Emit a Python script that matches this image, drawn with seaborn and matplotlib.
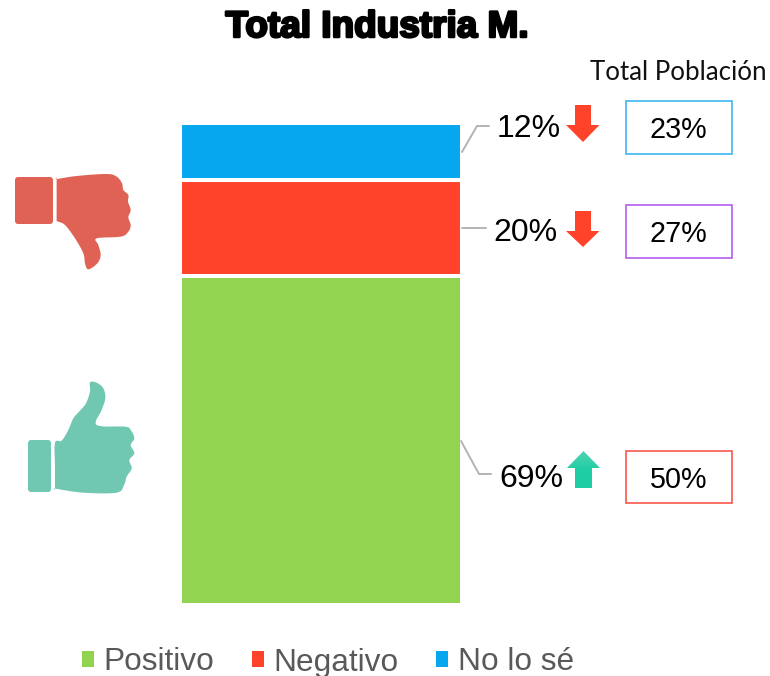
import numpy as np
import pandas as pd
import matplotlib
matplotlib.use("Agg")
import matplotlib.pyplot as plt
import matplotlib.patheffects as pe
from matplotlib.patches import Patch, Polygon, Rectangle, FancyBboxPatch
import seaborn as sns

categories = ["Positivo", "Negativo", "No lo sé"]
values = [69, 20, 12]
population = [50, 27, 23]
title = "Total Industria M."
population_title = "Total Población"

bar_colors = ["#92D350", "#FF432B", "#07A7F0"]
box_colors = ["#F9584A", "#B35CF0", "#3DB5F0"]

sns.set_theme(style="white")
plt.rcParams["font.family"] = ["Liberation Sans", "DejaVu Sans"]

W, H = 770, 676
fig = plt.figure(figsize=(W / 100, H / 100), dpi=100, facecolor="white")

# bar axes (2 px of margin is hidden by the clipped white edge)
ax = fig.add_axes([180 / W, (H - 605) / H, 282 / W, 482 / H])
df = pd.DataFrame({"group": ["Total"] * 3, "cat": categories, "val": values})
bottom = 0
for cat, val, col in zip(categories, values, bar_colors):
    sns.barplot(data=df[df.cat == cat], x="group", y="val", bottom=bottom, width=1,
                color=col, saturation=1, edgecolor="white", linewidth=2.9, ax=ax,
                errorbar=None)
    bottom += val
ax.set_xlim(-0.5, 0.5)
ax.set_ylim(0, sum(values))
ax.axis("off")

# overlay in pixel coordinates for annotation furniture
ov = fig.add_axes([0, 0, 1, 1], zorder=5)
ov.set_xlim(0, W)
ov.set_ylim(H, 0)
ov.axis("off")
ov.patch.set_alpha(0)

ov.text(377, 27.5, title, ha="center", va="center", fontsize=26.6, fontweight="bold", color="black",
        path_effects=[pe.withStroke(linewidth=1.8, foreground="black")])
ov.text(678, 73, population_title, ha="center", va="center", fontsize=18.6, family="Lato", color="#111111")

# leader lines
grey = "#B3B3B3"
leaders = [([462, 477, 489], [152, 126, 126]),
           ([462, 486], [228, 228]),
           ([461, 479, 491], [441, 474, 474])]
for xs, ys in leaders:
    ov.plot(xs, ys, color=grey, lw=1.4, solid_joinstyle="miter")

# value labels
label_pos = [(531, 479), (525.5, 233), (529, 129)]
for v, (x, y) in zip(values, label_pos):
    ov.text(x, y, f"{v}%", ha="center", va="center", fontsize=23, color="black")

# population boxes
box_pos = [(626, 451, 106, 52), (625.5, 205, 106.5, 53), (625.5, 101, 106.5, 53)]
for p, col, (x, y, w, h) in zip(population, box_colors, box_pos):
    ov.add_patch(Rectangle((x, y), w, h, fc="white", ec=col, lw=1.2))
    ov.text(x + w / 2, y + h / 2 + 3, f"{p}%", ha="center", va="center", fontsize=20.7, color="black")

# arrows
def down_arrow(top, shoulder, tip, col):
    ov.add_patch(Polygon([(575, top), (591, top), (591, shoulder), (599.5, shoulder),
                          (583, tip), (566, shoulder), (575, shoulder)], closed=True, fc=col, ec="none"))

down_arrow(105, 125, 142, "#FF432B")
down_arrow(211, 231, 247, "#FF432B")
up = Polygon([(583.5, 451), (600, 468), (592, 468), (592, 488), (575, 488), (575, 468), (567, 468)],
             closed=True, fc="none", ec="none")
ov.add_patch(up)
grad = np.linspace(0, 1, 64).reshape(-1, 1)
cmap = matplotlib.colors.LinearSegmentedColormap.from_list("g", ["#20CDA5", "#20CDA5", "#52D4B2"])
im = ov.imshow(grad, extent=(566, 601, 489, 450), aspect="auto", cmap=cmap, origin="lower", zorder=2)
im.set_clip_path(up)
ov.set_xlim(0, W)
ov.set_ylim(H, 0)

# thumbs: outlines, rounded with a closed Catmull-Rom spline
def from_zoom(pts, ox, oy):
    p = np.array(pts, dtype=float) / 3 + [ox, oy]
    n = len(p)
    out = []
    for i in range(n):
        p0, p1, p2, p3 = p[(i - 1) % n], p[i], p[(i + 1) % n], p[(i + 2) % n]
        for t in np.linspace(0, 1, 8, endpoint=False):
            out.append(0.5 * (2 * p1 + (p2 - p0) * t + (2 * p0 - 5 * p1 + 4 * p2 - p3) * t ** 2
                              + (3 * p1 - p0 - 3 * p2 + p3) * t ** 3))
    return out

down_col = "#E06254"
ov.add_patch(FancyBboxPatch((17, 179), 34, 43, boxstyle="round,pad=2,rounding_size=3", fc=down_col, ec="none"))
down_hand = [(170, 58), (172, 57), (230, 48), (320, 42), (350, 50), (366, 70), (370, 90), (385, 105), (384, 125),
             (392, 150), (385, 172), (392, 195), (385, 215), (362, 230), (290, 235), (295, 255),
             (302, 285), (292, 310), (265, 328), (255, 310), (250, 280), (225, 235), (195, 195), (172, 184), (170, 182),
             (170, 120)]
ov.add_patch(Polygon(from_zoom(down_hand, 0, 160), closed=True, fc=down_col, ec="none"))

up_col = "#70C7B2"
ov.add_patch(FancyBboxPatch((30, 442), 19, 48, boxstyle="round,pad=2,rounding_size=3", fc=up_col, ec="none"))
up_hand = [(165, 218), (185, 212), (205, 180), (220, 145), (240, 122), (258, 100), (270, 65), (270, 37),
           (290, 38), (310, 55), (316, 85), (305, 120), (290, 165), (375, 170), (392, 180), (403, 205),
           (392, 225), (403, 250), (388, 270), (395, 295), (380, 320), (372, 345), (350, 368), (250, 368),
           (167, 356), (165, 354), (165, 290)]
ov.add_patch(Polygon(from_zoom(up_hand, 0, 370), closed=True, fc=up_col, ec="none"))

# legend
handles = [Patch(fc=c, ec="none", label=l) for c, l in zip(bar_colors, categories)]
fig.legend(handles=handles, ncol=3, loc="center", bbox_to_anchor=(328 / W, (H - 662.5) / H),
           frameon=False, fontsize=22.8, labelcolor="#595959", handlelength=0.38, handleheight=0.38,
           handletextpad=0.31, columnspacing=1.18, borderpad=0, borderaxespad=0)

fig.savefig("out.png", dpi=100, facecolor="white")
